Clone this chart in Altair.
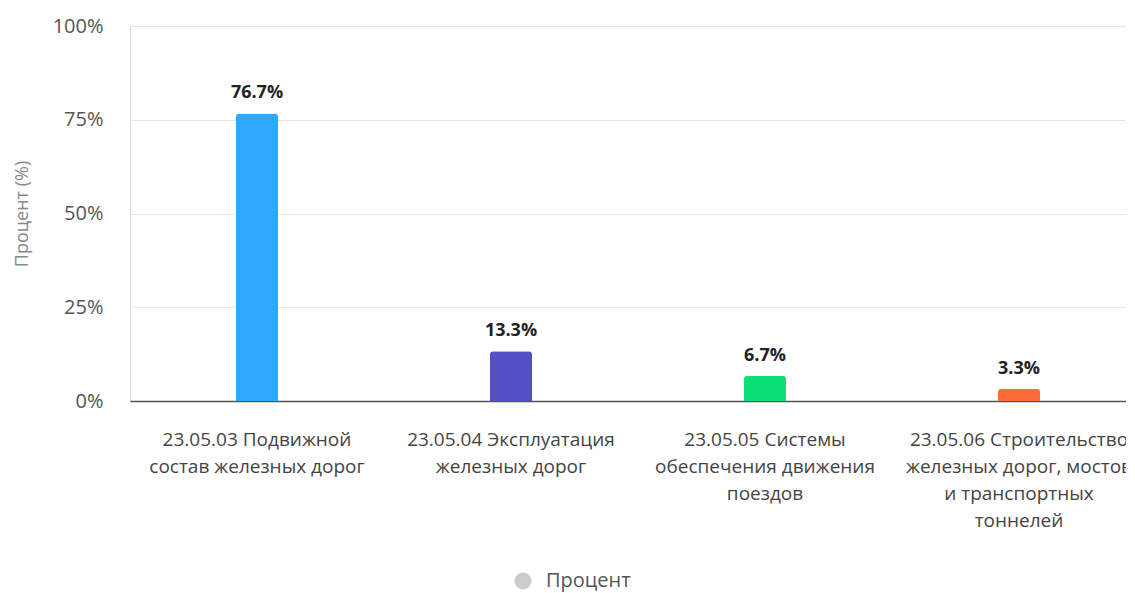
import altair as alt
import pandas as pd

categories = [
    "23.05.03 Подвижной\nсостав железных дорог",
    "23.05.04 Эксплуатация\nжелезных дорог",
    "23.05.05 Системы\nобеспечения движения\nпоездов",
    "23.05.06 Строительство\nжелезных дорог, мостов\nи транспортных\nтоннелей",
]
values = [76.7, 13.3, 6.7, 3.3]
bar_colors = ["#2DAAFF", "#554FC6", "#0BE077", "#FF6B3A"]
series_name = "Процент"
y_ticks = [0, 25, 50, 75, 100]

df = pd.DataFrame({"category": categories, "value": values, "series": series_name})

FONT = "Open Sans"

base = alt.Chart(df)

x_enc = alt.X(
    "category:N",
    sort=categories,
    scale=alt.Scale(paddingInner=0, paddingOuter=0),
    axis=alt.Axis(
        title=None,
        labelAngle=0,
        labelExpr="split(datum.value, '\\n')",
        labelFontSize=19,
        labelColor="#444444",
        labelFont=FONT,
        labelLineHeight=27,
        labelPadding=29,
        labelBaseline="top",
        ticks=False,
        domainColor="#555555",
        domainWidth=1.5,
        labelLimit=400,
    ),
)

y_enc = alt.Y(
    "value:Q",
    scale=alt.Scale(domain=[0, 100], nice=False),
    axis=alt.Axis(
        title="Процент (%)",
        values=y_ticks,
        labelExpr="datum.value + '%'",
        labelFontSize=20,
        labelColor="#555555",
        labelFont=FONT,
        labelPadding=27,
        ticks=False,
        domain=False,
        gridColor="#E6E6E6",
        titleFontSize=18,
        titleFont=FONT,
        titleFontWeight="normal",
        titleColor="#888888",
        titlePadding=21,
    ),
)

bars = base.mark_bar(size=42, cornerRadiusTopLeft=3, cornerRadiusTopRight=3).encode(
    x=x_enc,
    y=y_enc,
    fill=alt.Fill("category:N", scale=alt.Scale(domain=categories, range=bar_colors), legend=None),
)

text = base.transform_calculate(
    label="format(datum.value, '.1f') + '%'"
).mark_text(
    dy=-11, fontSize=18, fontWeight="bold", font=FONT, color="#222222", baseline="bottom"
).encode(
    x=alt.X("category:N", sort=categories),
    y="value:Q",
    text="label:N",
)

legend_layer = base.mark_point(filled=True, opacity=0).encode(
    x=alt.X("category:N", sort=categories),
    y="value:Q",
    color=alt.Color(
        "series:N",
        scale=alt.Scale(domain=[series_name], range=["#CCCCCC"]),
        legend=alt.Legend(
            title=None,
            orient="none",
            legendX=383,
            legendY=545,
            symbolType="circle",
            symbolSize=289,
            symbolOpacity=1,
            symbolStrokeWidth=0,
            labelFontSize=20,
            labelFont=FONT,
            labelColor="#555555",
            labelOffset=13,
            padding=0,
        ),
    ),
)

chart = alt.layer(bars, text, legend_layer).properties(
    width=1016,
    height=375,
    autosize=alt.AutoSizeParams(type="none"),
    padding={"left": 122, "top": 18, "right": -20, "bottom": 200},
).configure_view(stroke=None).configure(background="white")

chart.save("out.html", embed_options={"renderer": "svg", "actions": False})
